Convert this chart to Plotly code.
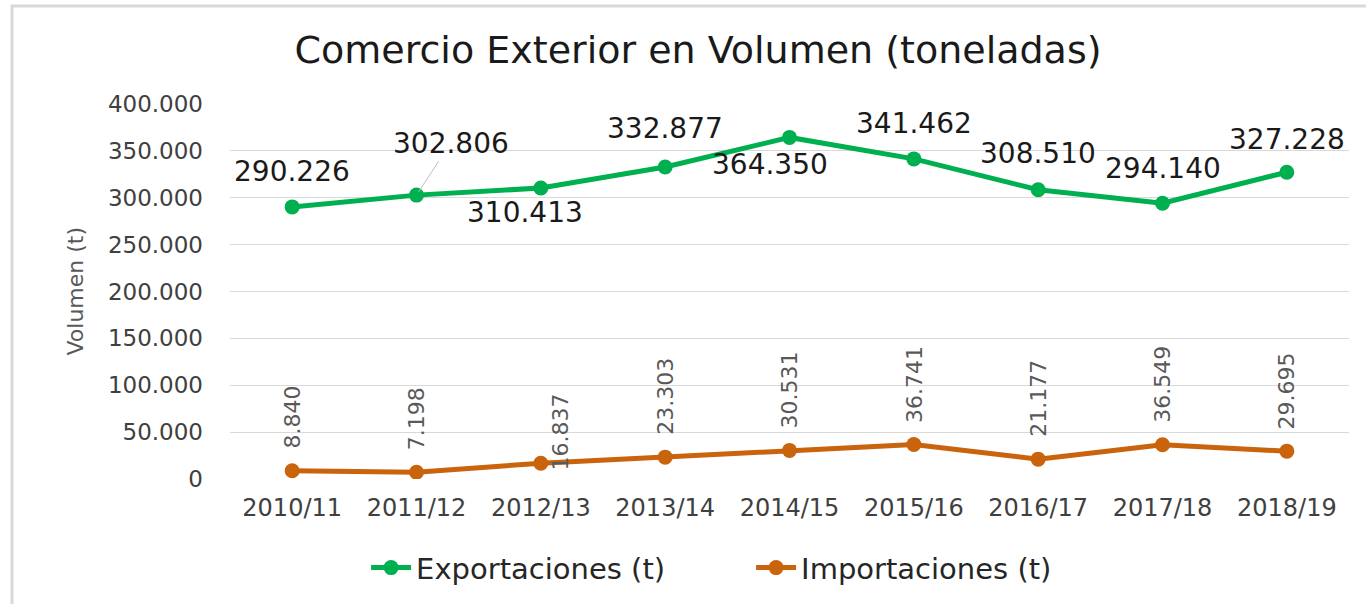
import plotly.graph_objects as go

categories = ["2010/11", "2011/12", "2012/13", "2013/14", "2014/15",
              "2015/16", "2016/17", "2017/18", "2018/19"]
exportaciones = [290226, 302806, 310413, 332877, 364350, 341462, 308510, 294140, 327228]
importaciones = [8840, 7198, 16837, 23303, 30531, 36741, 21177, 36549, 29695]
y_ticks = [0, 50000, 100000, 150000, 200000, 250000, 300000, 350000, 400000]

# label offsets (pixels) for export data labels, as placed in the reference
exp_shift = [(0, 35), (34, 52), (-16, -25), (0, 38), (-20, -27), (0, 35), (0, 36), (0, 35), (0, 33)]
imp_shift = [(0, 20), (0, 20), (20, -9), (0, 20), (0, 20), (0, 20), (0, 20), (0, 20), (0, 20)]

FONT = "DejaVu Sans"
GREEN = "#00B050"
ORANGE = "#C9630C"


def fmt(v):
    return f"{v:,}".replace(",", ".")


fig = go.Figure()
fig.add_trace(go.Scatter(
    x=categories, y=exportaciones, name="Exportaciones (t)", mode="lines+markers",
    line=dict(color=GREEN, width=5), marker=dict(color=GREEN, size=15),
))
fig.add_trace(go.Scatter(
    x=categories, y=importaciones, name="Importaciones (t)", mode="lines+markers",
    line=dict(color=ORANGE, width=5), marker=dict(color=ORANGE, size=15),
))

annotations = []
for i, (c, v) in enumerate(zip(categories, exportaciones)):
    dx, dy = exp_shift[i]
    if i == 1:
        annotations.append(dict(
            x=c, y=v, xref="x", yref="y", text=fmt(v), showarrow=True,
            arrowhead=0, arrowwidth=1, arrowcolor="#BFBFBF", ax=dx, ay=-dy,
            font=dict(family=FONT, size=28, color="#1A1A1A"), standoff=4,
        ))
    else:
        annotations.append(dict(
            x=c, y=v, xref="x", yref="y", text=fmt(v), showarrow=False,
            xshift=dx, yshift=dy,
            font=dict(family=FONT, size=28, color="#1A1A1A"),
        ))

for i, (c, v) in enumerate(zip(categories, importaciones)):
    dx, dy = imp_shift[i]
    annotations.append(dict(
        x=c, y=v, xref="x", yref="y", text=fmt(v), showarrow=False,
        textangle=-90, xanchor="center", yanchor="bottom",
        xshift=dx, yshift=dy,
        font=dict(family=FONT, size=22, color="#595959"),
    ))

annotations.append(dict(
    x=-0.1385, y=0.5, xref="paper", yref="paper", text="Volumen (t)",
    showarrow=False, textangle=-90, xanchor="center", yanchor="middle",
    font=dict(family=FONT, size=22, color="#595959"),
))

fig.update_layout(
    width=1366, height=604,
    margin=dict(l=230, r=17, t=104, b=125),
    paper_bgcolor="white", plot_bgcolor="white",
    separators=",.",
    font=dict(family=FONT, color="#404040"),
    title=dict(
        text="Comercio Exterior en Volumen (toneladas)",
        xref="container", yref="container", x=0.511, y=0.917,
        xanchor="center", yanchor="middle",
        font=dict(family=FONT, size=38, color="#1A1A1A"),
    ),
    showlegend=True,
    legend=dict(
        orientation="h", xref="container", yref="container",
        x=0.268, y=0.06, xanchor="left", yanchor="middle",
        font=dict(family=FONT, size=29, color="#262626"),
        itemwidth=40, entrywidth=330, entrywidthmode="pixels",
    ),
    annotations=annotations,
    shapes=[dict(
        type="rect", xref="paper", yref="paper",
        x0=-0.1948, x1=1.3, y0=-0.4, y1=1.2613,
        line=dict(color="#D9D9D9", width=3), fillcolor="rgba(0,0,0,0)", layer="below",
    )],
)

fig.update_xaxes(
    type="category", range=[-0.5, len(categories) - 0.5],
    showgrid=False, showline=False, zeroline=False, ticks="",
    tickfont=dict(family=FONT, size=24, color="#404040"),
    ticklabelstandoff=12,
)
fig.update_yaxes(
    range=[0, 400000], tickvals=y_ticks, tickformat=",d",
    showgrid=True, gridcolor="#D9D9D9", gridwidth=1,
    zeroline=False, showline=False, ticks="",
    tickfont=dict(family=FONT, size=23, color="#404040"),
    ticklabelstandoff=26,
)

fig.write_html(
    "out.html",
    config={"displayModeBar": False},
    post_script="document.body.style.margin='0';document.body.style.overflow='hidden';",
)
